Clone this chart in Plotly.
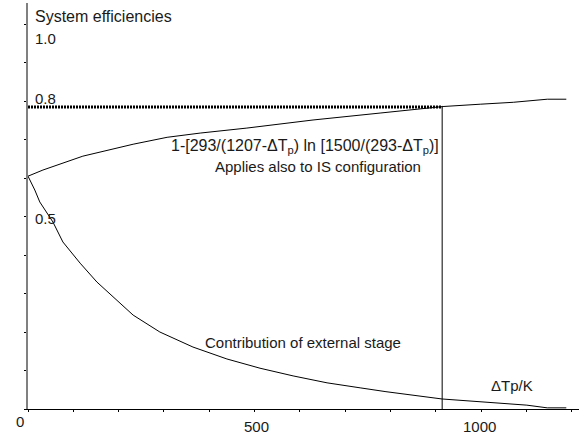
import plotly.graph_objects as go

# Data
upper_x = [0, 33, 121, 232, 307, 380, 483, 629, 777, 894, 916, 998, 1071, 1146, 1188]
upper_y = [0.605, 0.621, 0.657, 0.688, 0.706, 0.717, 0.730, 0.751, 0.769, 0.784, 0.786, 0.792, 0.797, 0.805, 0.805]

lower_x = [0, 15, 26, 55, 77, 115, 152, 188, 232, 291, 364, 439, 512, 585, 660, 733, 790, 914, 998, 1101, 1146, 1188]
lower_y = [0.605, 0.569, 0.538, 0.486, 0.434, 0.379, 0.330, 0.291, 0.244, 0.200, 0.161, 0.130, 0.106,
           0.086, 0.068, 0.055, 0.045, 0.026, 0.018, 0.010, 0.003, 0.003]

ref_level = 0.785      # dotted horizontal reference
ref_dT = 914           # vertical marker position

x_tick_labels = ["0", "500", "1000"]
x_tick_label_pos = [-0.0145, 0.4138, 0.8203]   # paper coords (centre)
x_tick_label_y = [-0.030, -0.042, -0.042]
y_labels = ["1.0", "0.8", "0.5"]
y_label_vals = [0.964, 0.806, 0.494]

X_MAX = 1216
Y_MAX = 1.055

font = dict(family="Liberation Sans, Arial, sans-serif", size=15, color="#1a1a1a")

fig = go.Figure()
fig.add_trace(go.Scatter(x=upper_x, y=upper_y, mode="lines",
                         line=dict(color="black", width=1), showlegend=False))
fig.add_trace(go.Scatter(x=lower_x, y=lower_y, mode="lines",
                         line=dict(color="black", width=1), showlegend=False))
fig.add_trace(go.Scatter(x=[0, ref_dT], y=[ref_level, ref_level], mode="lines",
                         line=dict(color="black", width=3, dash="2px,1px"), showlegend=False))
fig.add_trace(go.Scatter(x=[ref_dT, ref_dT], y=[0, ref_level], mode="lines",
                         line=dict(color="black", width=1), showlegend=False))

ann = []
ann.append(dict(x=11, y=1.019, text="System efficiencies", xanchor="left", yanchor="middle",
                font=dict(font, size=16)))
for lab, v in zip(y_labels, y_label_vals):
    ann.append(dict(x=11, y=v, text=lab, xanchor="left", yanchor="middle"))
for lab, px, py in zip(x_tick_labels, x_tick_label_pos, x_tick_label_y):
    ann.append(dict(x=px, y=py, xref="paper", yref="paper", text=lab,
                    xanchor="center", yanchor="middle"))
ann.append(dict(x=1068, y=0.060, text="ΔTp/K", xanchor="center", yanchor="middle"))
ann.append(dict(x=386, y=0.174, text="Contribution of external stage", xanchor="left", yanchor="middle"))
ann.append(dict(x=912, y=0.683, text="1-[293/(1207-ΔT<sub>p</sub>) ln [1500/(293-ΔT<sub>p</sub>)]",
                xanchor="right", yanchor="middle", font=dict(font, size=16)))
ann.append(dict(x=640, y=0.629, text="Applies also to IS configuration", xanchor="center", yanchor="middle"))
for a in ann:
    a.setdefault("xref", "x")
    a.setdefault("yref", "y")
    a.setdefault("font", font)
    a["showarrow"] = False

fig.update_layout(
    width=579, height=436,
    margin=dict(l=28, r=0, t=3, b=27),
    paper_bgcolor="white", plot_bgcolor="white",
    annotations=ann,
    xaxis=dict(range=[0, X_MAX], showgrid=False, zeroline=False, showline=True,
               linecolor="black", linewidth=1, ticks="outside", ticklen=2,
               tickcolor="black", tick0=0, dtick=100, showticklabels=False),
    yaxis=dict(range=[0, Y_MAX], showgrid=False, zeroline=False, showline=True,
               linecolor="#808080", linewidth=1.5, ticks="outside", ticklen=2,
               tickcolor="black", tick0=0, dtick=0.1, showticklabels=False),
)

fig.write_html("out.html", config={"displayModeBar": False},
               post_script="document.body.style.margin='0';document.body.style.overflow='hidden';")
